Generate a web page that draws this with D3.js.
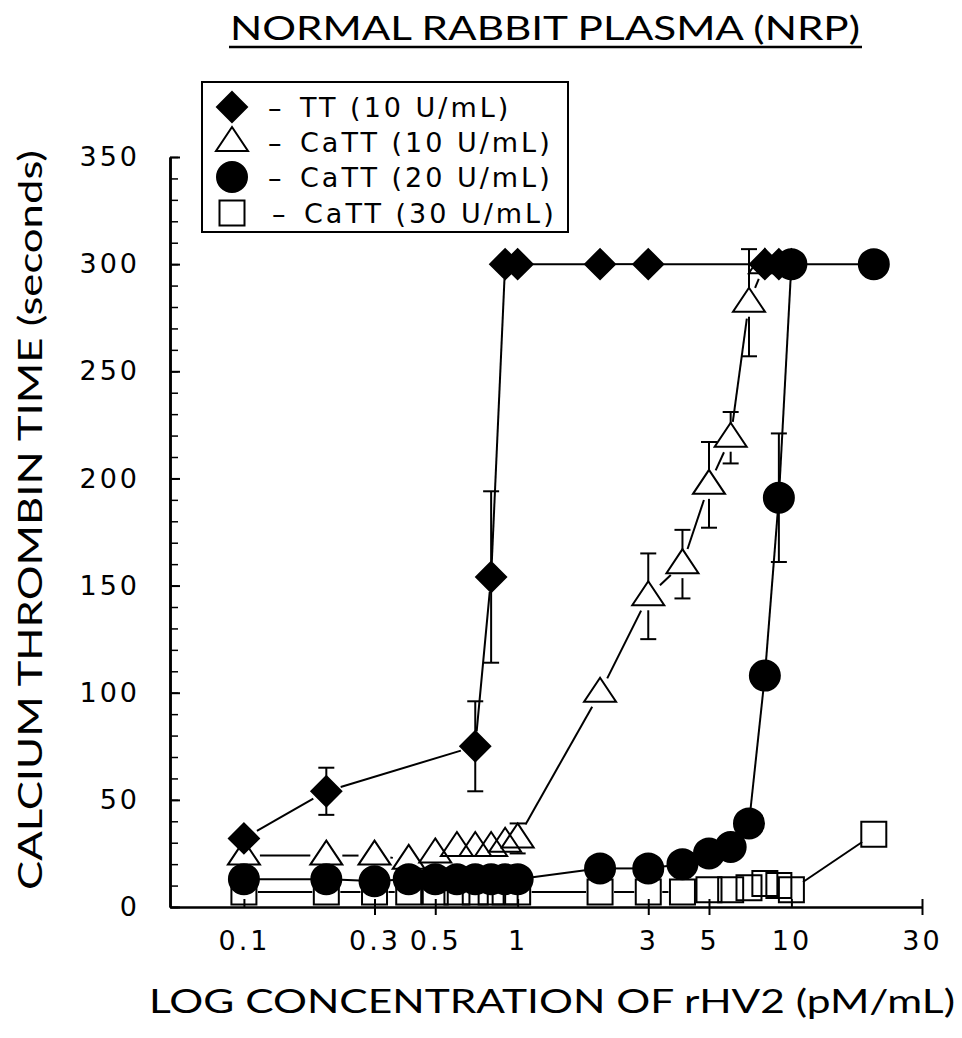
<!DOCTYPE html>
<html>
<head>
<meta charset="utf-8">
<script src="https://cdn.jsdelivr.net/npm/d3@7"></script>
<style>
body { margin: 0; background: #fff; }
text { fill: #000; }
</style>
</head>
<body>
<div id="chart"></div>
<script>
let w = 962;
let h = 1038;

// data
let tt_x   = [0.1, 0.2, 0.7, 0.8, 0.9, 1, 2, 3, 8, 9, 10];
let tt_y   = [32, 54, 75, 154, 300, 300, 300, 300, 300, 300, 300];
let tt_err = [0, 11, 21, 40, 0, 0, 0, 0, 0, 0, 0];

let ca10_x   = [0.1, 0.2, 0.3, 0.4, 0.5, 0.6, 0.7, 0.8, 0.9, 1, 2, 3, 4, 5, 6, 7, 8];
let ca10_y   = [24, 24, 24, 22, 25, 28, 28, 28, 30, 32, 100, 145, 160, 197, 219, 282, 300];
let ca10_err = [0, 0, 0, 0, 0, 0, 0, 0, 0, 7, 0, 20, 16, 20, 12, 25, 0];

let ca20_x   = [0.1, 0.2, 0.3, 0.4, 0.5, 0.6, 0.7, 0.8, 0.9, 1, 2, 3, 4, 5, 6, 7, 8, 9, 10, 20];
let ca20_y   = [13, 13, 12, 13, 13, 13, 13, 13, 13, 13, 18, 18, 20, 25, 28, 39, 108, 191, 300, 300];
let ca20_err = [0, 0, 0, 0, 0, 0, 0, 0, 0, 0, 0, 0, 0, 0, 0, 0, 0, 30, 0, 0];

let ca30_x   = [0.1, 0.2, 0.3, 0.4, 0.5, 0.6, 0.7, 0.8, 0.9, 1, 2, 3, 4, 5, 6, 7, 8, 9, 10, 20];
let ca30_y   = [7, 7, 7, 7, 7, 7, 7, 7, 7, 7, 7, 7, 7, 8, 8, 9, 11, 10, 8, 34];

let x_ticks = [0.1, 0.3, 0.5, 1, 3, 5, 10, 30];
let x_tick_labels = ["0.1", "0.3", "0.5", "1", "3", "5", "10", "30"];
let y_ticks = [0, 50, 100, 150, 200, 250, 300, 350];

let legend_labels = ["TT (10 U/mL)", "CaTT (10 U/mL)", "CaTT (20 U/mL)", "CaTT (30 U/mL)"];

let x_scale = d3.scaleLog()
    .domain([0.0537, 30])
    .range([170, 922]);

let y_scale = d3.scaleLinear()
    .domain([0, 350])
    .range([907, 157]);

let svg = d3.select("#chart")
    .append("svg")
    .attr("width", w)
    .attr("height", h);

// marker shapes
let diamond = "M0,-15L15,0L0,15L-15,0Z";
let triangle = "M0,-15L16,9L-16,9Z";
let square = "M-12.5,-12.5H12.5V12.5H-12.5Z";
let circle = d3.symbol().type(d3.symbolCircle).size(Math.PI * 15 * 15)();

// lines between points, cut back at the markers
let gapLines = function (g, xs, ys, gap) {
    for (let i = 0; i < xs.length - 1; i++) {
        let x1 = x_scale(xs[i]), y1 = y_scale(ys[i]);
        let x2 = x_scale(xs[i + 1]), y2 = y_scale(ys[i + 1]);
        let d = Math.hypot(x2 - x1, y2 - y1);
        if (d <= 2 * gap) continue;
        let ux = (x2 - x1) / d, uy = (y2 - y1) / d;
        g.append("line")
            .attr("x1", x1 + ux * gap).attr("y1", y1 + uy * gap)
            .attr("x2", x2 - ux * gap).attr("y2", y2 - uy * gap)
            .attr("stroke", "#000")
            .attr("stroke-width", 2);
    }
};

let errorBars = function (g, xs, ys, errs, inner) {
    for (let i = 0; i < xs.length; i++) {
        if (!errs || !errs[i]) continue;
        let cx = x_scale(xs[i]);
        let cy = y_scale(ys[i]);
        let top = y_scale(ys[i] + errs[i]);
        let bot = y_scale(ys[i] - errs[i]);
        g.append("line").attr("x1", cx).attr("x2", cx)
            .attr("y1", cy - inner).attr("y2", top)
            .attr("stroke", "#000").attr("stroke-width", 2);
        g.append("line").attr("x1", cx).attr("x2", cx)
            .attr("y1", cy + inner).attr("y2", bot)
            .attr("stroke", "#000").attr("stroke-width", 2);
        [top, bot].forEach(yy => {
            g.append("line").attr("x1", cx - 8).attr("x2", cx + 8)
                .attr("y1", yy).attr("y2", yy)
                .attr("stroke", "#000").attr("stroke-width", 2);
        });
    }
};

let markers = function (g, xs, ys, path, fill) {
    g.selectAll("path.m")
        .data(xs.map((d, i) => [d, ys[i]]))
        .enter()
        .append("path")
        .attr("class", "m")
        .attr("d", path)
        .attr("transform", d => "translate(" + x_scale(d[0]) + "," + y_scale(d[1]) + ")")
        .attr("fill", fill)
        .attr("stroke", "#000")
        .attr("stroke-width", 2);
};

// axes
let x_axis = d3.axisBottom(x_scale)
    .tickValues(x_ticks)
    .tickFormat((d, i) => x_tick_labels[i])
    .tickSizeOuter(0)
    .tickPadding(18);

let gx = svg.append("g")
    .attr("transform", "translate(0," + 907 + ")")
    .call(x_axis);
gx.selectAll(".tick line")
    .attr("y1", -8)
    .attr("y2", d => ([0.1, 1, 10].indexOf(d) >= 0 ? 0 : 8))
    .attr("stroke-width", 2);

let y_minor = d3.axisLeft(y_scale)
    .tickValues(d3.range(0, 351, 10))
    .tickFormat("")
    .tickSize(-8)
    .tickSizeOuter(0);
svg.append("g")
    .attr("transform", "translate(170,0)")
    .call(y_minor)
    .selectAll(".tick line").attr("stroke-width", 1.5);

let y_axis = d3.axisLeft(y_scale)
    .tickValues(y_ticks)
    .tickSize(-10)
    .tickSizeOuter(0)
    .tickPadding(30);
let gy = svg.append("g")
    .attr("transform", "translate(170,0)")
    .call(y_axis);
gy.selectAll(".tick line").attr("stroke-width", 2);

svg.selectAll(".domain").attr("stroke-width", 2.5);
svg.selectAll(".tick text")
    .attr("font-family", "DejaVu Sans")
    .attr("font-size", 27)
    .attr("letter-spacing", 3)
    .attr("fill", "#000");

// series: squares, triangles, circles, diamonds
let g30 = svg.append("g");
gapLines(g30, ca30_x, ca30_y, 14);
markers(g30, ca30_x, ca30_y, square, "none");

let g10 = svg.append("g");
gapLines(g10, ca10_x, ca10_y, 16);
errorBars(g10, ca10_x, ca10_y, ca10_err, 14);
markers(g10, ca10_x, ca10_y, triangle, "none");

let g20 = svg.append("g");
gapLines(g20, ca20_x, ca20_y, 15);
errorBars(g20, ca20_x, ca20_y, ca20_err, 0);
markers(g20, ca20_x, ca20_y, circle, "#000");

let gtt = svg.append("g");
gapLines(gtt, tt_x, tt_y, 15);
errorBars(gtt, tt_x, tt_y, tt_err, 0);
markers(gtt, tt_x, tt_y, diamond, "#000");

// title
let font_narrow = "Lato, Roboto, Liberation Sans, sans-serif";
svg.append("text")
    .attr("x", 545)
    .attr("y", 40)
    .attr("text-anchor", "middle")
    .attr("font-family", font_narrow)
    .attr("font-size", 33)
    .attr("textLength", 630)
    .attr("lengthAdjust", "spacingAndGlyphs")
    .text("NORMAL RABBIT PLASMA (NRP)");
svg.append("line")
    .attr("x1", 229).attr("x2", 862)
    .attr("y1", 47).attr("y2", 47)
    .attr("stroke", "#000").attr("stroke-width", 2.5);

// axis titles
svg.append("text")
    .attr("x", 552)
    .attr("y", 1013)
    .attr("text-anchor", "middle")
    .attr("font-family", font_narrow)
    .attr("font-size", 33)
    .attr("textLength", 806)
    .attr("lengthAdjust", "spacingAndGlyphs")
    .text("LOG CONCENTRATION OF rHV2 (pM/mL)");

svg.append("text")
    .attr("transform", "translate(42,520) rotate(-90)")
    .attr("text-anchor", "middle")
    .attr("font-family", font_narrow)
    .attr("font-size", 33)
    .attr("textLength", 740)
    .attr("lengthAdjust", "spacingAndGlyphs")
    .text("CALCIUM THROMBIN TIME (seconds)");

// legend
let lg = svg.append("g");
lg.append("rect")
    .attr("x", 202).attr("y", 82)
    .attr("width", 366).attr("height", 150)
    .attr("fill", "#fff")
    .attr("stroke", "#000").attr("stroke-width", 2);

let legend_shapes = [[diamond, "#000"], [triangle, "none"], [circle, "#000"], [square, "none"]];
let legend_rows = [107, 142, 177, 213];
legend_labels.forEach((lab, i) => {
    lg.append("path")
        .attr("d", legend_shapes[i][0])
        .attr("transform", "translate(232," + legend_rows[i] + ")")
        .attr("fill", legend_shapes[i][1])
        .attr("stroke", "#000").attr("stroke-width", 2);
    lg.append("text")
        .attr("x", i == 3 ? 272 : 268)
        .attr("y", legend_rows[i] + 10)
        .attr("font-family", "DejaVu Sans")
        .attr("font-size", 27)
        .text("–");
    lg.append("text")
        .attr("x", i == 3 ? 304 : 300)
        .attr("y", legend_rows[i] + 10)
        .attr("font-family", "DejaVu Sans")
        .attr("font-size", 27)
        .attr("letter-spacing", 3)
        .text(lab);
});
</script>
</body>
</html>
